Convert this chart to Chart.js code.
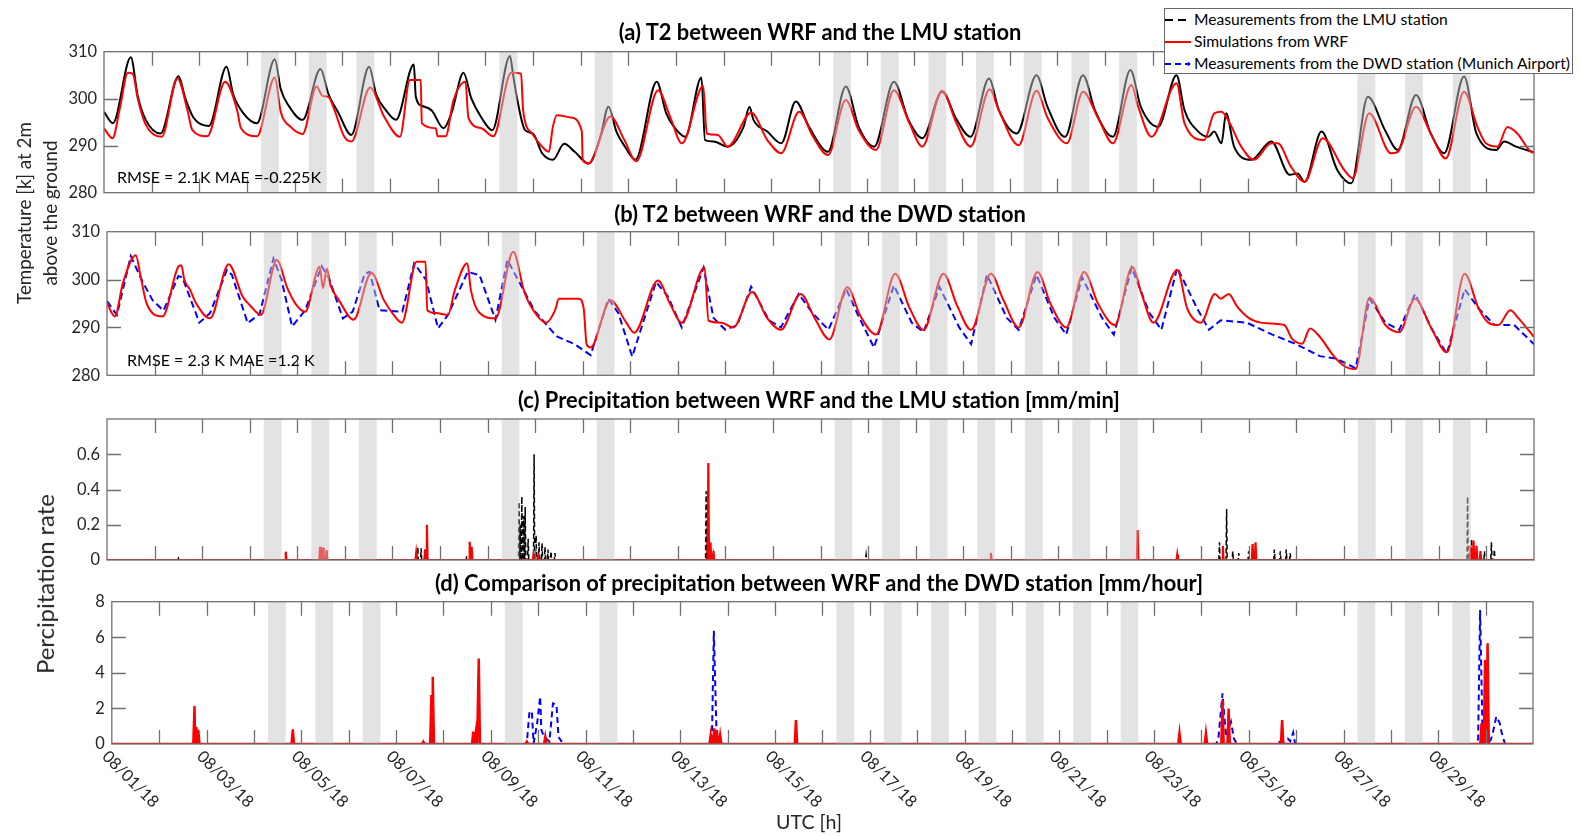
<!DOCTYPE html>
<html>
<head>
<meta charset="utf-8">
<script src="https://cdn.jsdelivr.net/npm/chart.js@4/dist/chart.umd.min.js"></script>
<style>
html,body{margin:0;padding:0;background:#fff;}
#stage{position:relative;width:1580px;height:836px;overflow:hidden;background:#fff;font-family:Lato,"Open Sans",sans-serif;}
#stage canvas{position:absolute;left:0;top:0;}
.txt{position:absolute;white-space:nowrap;line-height:1;transform:translate(-50%,-50%);}
.ttl{font-weight:bold;color:#000;}
.ylab{color:#262626;transform:translate(-50%,-50%) rotate(-90deg);}
.note{color:#000;transform:translate(0,-50%);}
#legend{position:absolute;left:1164px;top:8px;width:409px;height:66px;border:1px solid #6a6a6a;background:#fff;box-sizing:border-box;}
.lrow{position:absolute;left:0;height:20px;width:400px;}
.lrow svg{position:absolute;left:0;top:0;}
.lrow span{position:absolute;left:29px;top:50%;transform:translateY(-50%);white-space:nowrap;color:#000;line-height:1;}
</style>
</head>
<body>
<div id="stage">
  <canvas id="cA" width="1580" height="836"></canvas>
  <canvas id="cB" width="1580" height="836"></canvas>
  <canvas id="cC" width="1580" height="836"></canvas>
  <canvas id="cD" width="1580" height="836"></canvas>

  <div class="txt ttl" id="tA" style="left:820px;top:32px;">(a) T2 between WRF and the LMU station</div>
  <div class="txt ttl" id="tB" style="left:820px;top:213.5px;">(b) T2 between WRF and the DWD station</div>
  <div class="txt ttl" id="tC" style="left:819px;top:400px;">(c) Precipitation between WRF and the LMU station [mm/min]</div>
  <div class="txt ttl" id="tD" style="left:819px;top:582.5px;">(d) Comparison of precipitation between WRF and the DWD station [mm/hour]</div>

  <div class="txt note" id="nA" style="left:117px;top:176.5px;">RMSE = 2.1K MAE =-0.225K</div>
  <div class="txt note" id="nB" style="left:127px;top:360px;">RMSE = 2.3 K MAE =1.2 K</div>

  <div class="txt ylab" id="y1" style="left:24px;top:213px;">Temperature [k] at 2m</div>
  <div class="txt ylab" id="y2" style="left:50px;top:213px;">above the ground</div>
  <div class="txt ylab" id="y3" style="left:45px;top:584px;">Percipitation rate</div>
  <div class="txt" id="xl" style="left:809px;top:822px;color:#262626;">UTC [h]</div>

  <div id="legend">
    <div class="lrow" style="top:1px;">
      <svg width="28" height="20"><line x1="0" y1="10" x2="26" y2="10" stroke="#000" stroke-width="2" stroke-dasharray="8,5"/></svg>
      <span id="l1">Measurements from the LMU station</span>
    </div>
    <div class="lrow" style="top:23px;">
      <svg width="28" height="20"><line x1="0" y1="10" x2="26" y2="10" stroke="#ff0000" stroke-width="2"/></svg>
      <span id="l2">Simulations from WRF</span>
    </div>
    <div class="lrow" style="top:44.5px;">
      <svg width="28" height="20"><line x1="0" y1="10" x2="22" y2="10" stroke="#0000ff" stroke-width="2" stroke-dasharray="6,4"/><circle cx="23.5" cy="10" r="1.8" fill="#0000ff"/></svg>
      <span id="l3">Measurements from the DWD station (Munich Airport)</span>
    </div>
  </div>
</div>

<script>
// ---------------- DATA (hours since 08/01/18 00:00 UTC) ----------------
const lmuHour = [
 0, 4.5, 13.5, 17, 21,
 28.5, 37.5, 41, 45,
 52.8, 61.7, 65, 70,
 77, 86, 89, 93,
 100, 109, 113, 118,
 124.5, 133.5, 137, 142,
 147, 156, 157, 160, 165,
 171, 175, 181, 185, 190,
 195.5, 204.4, 206, 208, 212,
 216, 220.6, 226, 231.7, 237,
 244, 250, 254, 258, 262,
 267.6, 278.3, 283, 287,
 292.7, 300.8, 302.6, 307, 314,
 322, 325, 327, 334,
 341, 348.3, 355,
 364.5, 373.5, 380,
 387.8, 397.7, 405,
 412, 422, 429,
 436.3, 445.6, 450.5,
 459.6, 469.5, 475,
 483.9, 492.9, 499,
 508, 516.8, 522,
 530.8, 540, 544, 551,
 556, 559, 562.6, 565, 569, 577.7,
 587.7, 597, 601,
 604.5, 613, 621,
 628, 636.3, 645,
 651.4, 660.6, 668,
 674.8, 684.8, 691,
 701, 705, 711, 720
];
const lmuTemp = [
 297.2, 294.8, 308.8, 300.5, 295.5,
 292.6, 304.8, 300, 296,
 294.2, 306.8, 301, 297,
 294.8, 308.4, 302, 298.5,
 295.5, 306.3, 301, 297,
 292.3, 306.8, 301, 297.5,
 295.5, 307.3, 300.4, 298.5, 297.5,
 293.7, 297, 305.5, 300, 296,
 293.3, 309.1, 305, 300, 293.3,
 292.6, 288.4, 287, 290.4, 288.7,
 286.2, 292, 298.3, 293, 290,
 287, 303.6, 297, 294,
 291.9, 304.5, 291.2, 290.9, 289.8,
 294, 298.3, 295.5, 293,
 290.5, 299.4, 294,
 288.7, 302.6, 294,
 289.8, 303.6, 295.5,
 291.6, 301.5, 295.8,
 291.9, 304.3, 297.6,
 292.6, 305, 298.3,
 291.9, 305, 297.5,
 291.9, 306.1, 298.3,
 294, 305, 297.6, 293,
 291.9, 293, 290.5, 296.9, 289.8, 287,
 290.9, 283.8, 284.1,
 282.3, 293, 284.8,
 282, 300.4, 293.3,
 289.1, 300.8, 292.6,
 288.4, 304.7, 292.6,
 289.1, 290.9, 289.8, 288.6
];
const wrfAHour = [
 0, 4.3, 8, 12, 14.5, 17, 21,
 29, 37, 42, 44.5,
 52, 61, 67, 69,
 77, 86, 89, 94,
 100, 107, 110, 113, 116, 121,
 124.6, 134, 141,
 149, 154, 159.5, 160, 167, 168,
 172, 176, 182, 183.5, 190,
 196, 205, 210, 211, 215.5,
 220.6, 224, 226, 228, 235,
 240.6, 241, 244, 255, 262,
 268, 279, 285,
 291, 301.7, 303.5, 309,
 314, 325.9, 334,
 341, 350, 357,
 364.5, 373.5, 380,
 388.7, 397.7, 405.5,
 412, 422, 429,
 436.3, 446, 450.5,
 460.5, 469.5, 475,
 484.8, 492.9, 500.6,
 508, 517.3, 520.7,
 527.4, 540, 544,
 554, 559, 562.6, 566.8, 572.6,
 579, 587.7, 591, 597.7,
 604.5, 613.6, 624.5,
 628.7, 637, 648,
 651.4, 660.6, 668,
 675.6, 684.8, 691.5, 695.8,
 701.6, 706.6, 711.6, 718.4, 720
];
const wrfATemp = [
 293.7, 291.6, 298, 305.5, 305.3, 300, 294.5,
 291.9, 304.3, 297.6, 293.3,
 292, 303.6, 297.6, 293.7,
 292, 304.5, 297.2, 294,
 292.5, 302.6, 300.6, 300.4, 297.6, 291.9,
 290.9, 302.4, 296.2,
 291.9, 304, 304, 294.8, 293.7, 292,
 292, 299.7, 303.6, 295.9, 293.7,
 292, 305.5, 305.3, 297.6, 292.6,
 289.8, 288.7, 294, 296.5, 296,
 293, 287, 286.2, 296.2, 291.2,
 286.7, 301.8, 296.2,
 290.5, 302.7, 292.6, 292.3,
 289.8, 297, 291.2,
 288.4, 297.2, 291.9,
 288, 299.7, 293.3,
 289.1, 301.8, 294.8,
 289.8, 301.7, 295,
 289.8, 302, 297.6,
 290.1, 301.7, 296,
 290.5, 301.5, 295.8,
 290.5, 302.9, 298.3,
 291.9, 303.3, 294.8,
 291.2, 296.9, 297.2, 294.8, 289.8,
 287, 290.5, 290.5, 285.5,
 282.3, 291.6, 284.8,
 283.1, 296.9, 288.4,
 288.7, 298.3, 292.6,
 287.3, 301.5, 294, 290.5,
 289.8, 294, 292.6, 288.7, 288.5
];
const wrfBHour = [
 0, 4, 8, 14.5, 17, 20,
 28, 36, 37.5, 39, 42, 45,
 52, 61.4, 68.5, 72,
 77.6, 85.7, 91, 95.5,
 100, 107.3, 109, 110.9, 112.7, 117,
 124.4, 133.4, 139.7, 144,
 148.8, 156.2, 160.7, 161.6, 166,
 172, 175.5, 181.8, 183.6, 188,
 196, 205, 210.3, 214,
 221.6, 226, 228, 238,
 240.5, 242, 244, 254, 262,
 266, 278, 284,
 290, 301.5, 303.5, 310,
 316, 325.5, 333,
 340, 350, 357,
 364.5, 373.5, 380,
 388, 397.7, 405,
 412, 422, 429,
 436, 446, 452,
 460, 469.5, 476,
 484, 493, 500,
 508.5, 517.3, 522,
 528, 540, 545,
 552, 559, 562, 566, 570, 576,
 582, 588, 594, 598,
 603, 607, 612, 619,
 624, 630, 637, 645,
 652, 660, 668,
 676, 685, 692, 697,
 702, 708, 712, 720
];
const wrfBTemp = [
 295, 292.3, 299.2, 305.1, 300.6, 295,
 292.3, 302.7, 303, 300, 297.8, 295,
 291.9, 303.2, 296.4, 294.7,
 292.6, 304.1, 298.2, 294.7,
 293.3, 302.7, 298.2, 302.3, 298.9, 295.7,
 291.6, 301.4, 295.7, 293,
 291, 303.7, 303.7, 293.6, 293,
 292.6, 297.8, 303.4, 297.8, 293,
 291.9, 305.8, 297.8, 294.3,
 291, 293.5, 296, 296,
 294, 286.5, 285.8, 295.7, 291,
 288.9, 299.8, 295,
 291, 302.5, 291.4, 291,
 290, 297.4, 292,
 289.5, 297, 292,
 287.5, 298.4, 292.5,
 288.5, 301.2, 294,
 289.5, 301.2, 294.5,
 289.5, 301.2, 296,
 290, 301.6, 295,
 290, 301.6, 295,
 290.5, 302.6, 297,
 291, 302, 294,
 291, 297, 296, 297, 294.5, 292,
 291, 290.8, 290.5, 287.6,
 286.6, 289.8, 288, 284,
 282, 281.3, 296.2, 290.5,
 289, 296, 290,
 284.8, 301.2, 294, 291,
 290.5, 293.6, 292, 288
];
const dwdHour = [
 0, 5, 12, 18, 23,
 28.5, 36, 38, 46.6,
 52, 60.5, 63, 71,
 77, 84, 88, 93.4,
 100, 108.3, 112, 119,
 124, 130, 132.5, 137.5,
 149, 155, 161, 167,
 172, 182, 188, 196,
 202, 216, 227, 236,
 244, 253, 258, 265,
 277, 283, 290,
 301, 306, 312, 318,
 325, 334, 340,
 349, 356, 364,
 373, 379, 387,
 397, 406, 412,
 420, 430, 436,
 444, 454, 460,
 469, 478, 484,
 492, 502, 508,
 517, 526, 532,
 540, 550, 556,
 562, 575, 588, 600,
 612, 620, 630,
 637, 645, 652,
 660, 668, 676,
 685, 692, 700, 710, 720
];
const dwdTemp = [
 295.5, 292.6, 304.9, 299.5, 295.7,
 293.5, 300.7, 300.5, 291,
 293, 302, 301, 290.9,
 292.8, 304.4, 300, 290.2,
 293.6, 302.8, 300.3, 291.9,
 293.3, 301.2, 301.6, 293.6,
 293.3, 303.4, 299.9, 289.8,
 292.6, 301.6, 300.9, 291.6,
 304.1, 293.3, 288.1, 286.5,
 284.2, 296, 293, 283.9,
 299.5, 296.5, 290,
 302.5, 292, 289.5, 290.5,
 298.5, 291.5, 290,
 297, 293, 289.5,
 298, 292.5, 285.8,
 298.8, 291, 289,
 298.5, 290, 286.5,
 301, 292, 289.5,
 301, 292, 288.5,
 300.5, 292, 288.5,
 302.5, 293, 289.5,
 302.5, 294, 289.5,
 291.5, 291, 288.5, 286.5,
 284, 283.5, 281.5,
 296, 291, 289.5,
 297, 290, 284.5,
 298, 294, 290.5, 290.5, 286.5
];
// (c) LMU precipitation [mm/min] - measurement peaks and WRF peaks
const lmuPrecHour = [36, 156.8, 158.5, 181.5, 207.9, 208.4, 209.3, 210.2, 211, 212.5, 215.5, 216.5, 218, 219.5, 221, 222.5, 224, 226, 302.3, 303, 306, 383, 561.3, 564.9, 568, 571, 576, 579, 589, 592, 595, 597, 686.5, 688.5, 695, 698.5, 700];
const lmuPrecVal  = [0.01, 0.075, 0.066, 0.023, 0.33, 0.2, 0.36, 0.25, 0.3, 0.12, 0.6, 0.14, 0.1, 0.095, 0.075, 0.06, 0.05, 0.04, 0.39, 0.2, 0.03, 0.03, 0.1, 0.29, 0.05, 0.04, 0.05, 0.04, 0.06, 0.05, 0.06, 0.04, 0.36, 0.12, 0.05, 0.1, 0.06];
const wrfPrecCHour = [90.2, 107.5, 109, 110.8, 156, 160.5, 161.4, 183, 184, 215.2, 217.5, 303.4, 304.5, 306, 446, 520, 540, 563, 578, 579.5, 688, 689.5, 691, 693];
const wrfPrecCVal  = [0.047, 0.075, 0.07, 0.057, 0.038, 0.06, 0.2, 0.104, 0.075, 0.028, 0.02, 0.55, 0.1, 0.05, 0.04, 0.17, 0.03, 0.08, 0.09, 0.1, 0.08, 0.11, 0.08, 0.05];
// (d) DWD precipitation [mm/hour]
const wrfPrecDHour = [41.9, 42.8, 43.8, 91.7, 157.8, 161.9, 162.6, 183.1, 184.5, 185.9, 210.3, 219.6, 303.4, 305.2, 306.5, 308.2, 346.6, 540.9, 554.3, 562.7, 565.8, 592.9, 693.9, 695.7, 697];
const wrfPrecDVal  = [2.13, 0.97, 0.79, 0.82, 0.13, 2.75, 3.78, 0.69, 0.69, 4.81, 0.13, 0.41, 0.5, 0.88, 0.79, 0.5, 1.35, 0.6, 0.6, 2.47, 2.0, 1.35, 1.16, 4.72, 5.66];
const dwdPrecHour = [0, 209.6, 210.3, 211.6, 212.8, 213.7, 215.5, 217, 217.6, 219, 221.7, 223.5, 225.3, 226.3, 228.7, 304, 305, 306.5, 559.5, 560.6, 562.7, 564.5, 567, 568.5, 570, 589.5, 590.5, 593, 595.8, 597, 598.5, 599.5, 691.5, 692.2, 693.2, 694.4, 695.3, 698.5, 699.6, 701.4, 703.2, 704, 705.8, 720];
const dwdPrecVal  = [0, 0, 0.13, 1.82, 1.82, 0.04, 1.16, 2.66, 0.79, 0.41, 0.13, 2.28, 2.2, 0.4, 0, 0, 6.37, 0, 0, 0.3, 2.85, 0.4, 1.25, 0.3, 0, 0, 0.13, 0.1, 0.3, 0.15, 0.64, 0, 0, 0.3, 7.53, 0.79, 0, 0.2, 0.6, 1.54, 1.16, 0.69, 0, 0];

// shaded daytime windows (day index from 08/01) and hours
const bandDays = [3, 4, 5, 8, 10, 15, 16, 17, 18, 19, 20, 21, 26, 27, 28];
const bandFromHour = 7.1, bandToHour = 16.1;

// tick labels
const tempTicks = [280, 290, 300, 310];
const tempTickLabels = ['280', '290', '300', '310'];
const lmuPrecTicks = [0, 0.2, 0.4, 0.6];
const lmuPrecTickLabels = ['0', '0.2', '0.4', '0.6'];
const dwdPrecTicks = [0, 2, 4, 6, 8];
const dwdPrecTickLabels = ['0', '2', '4', '6', '8'];
const dateTickHours = [0, 48, 96, 144, 192, 240, 288, 336, 384, 432, 480, 528, 576, 624, 672];
const dateTickLabels = ['08/01/18','08/03/18','08/05/18','08/07/18','08/09/18','08/11/18','08/13/18','08/15/18','08/17/18','08/19/18','08/21/18','08/23/18','08/25/18','08/27/18','08/29/18'];
const dayTickHours = [24,48,72,96,120,144,168,192,216,240,264,288,312,336,360,384,408,432,456,480,504,528,552,576,600,624,648,672,696];

// ---------------- helpers ----------------
function zip(xs, ys) { const n = Math.min(xs.length, ys.length); const o = []; for (let i = 0; i < n; i++) o.push({x: xs[i], y: ys[i]}); return o; }
function spikes(xs, ys, hw) {
  const pts = [{x: 0, y: 0}];
  const n = Math.min(xs.length, ys.length);
  for (let i = 0; i < n; i++) pts.push({x: xs[i] - hw, y: 0}, {x: xs[i], y: ys[i]}, {x: xs[i] + hw, y: 0});
  pts.push({x: 720, y: 0});
  pts.sort((a, b) => a.x - b.x);
  return pts;
}
const mctx = document.createElement('canvas').getContext('2d');
function textW(t, weight) { mctx.font = weight + ' 100px Lato, "Open Sans", sans-serif'; return mctx.measureText(t).width; }
function sizeFor(t, target, weight) { return 100 * target / textW(t, weight || 'normal'); }
function fit(ids, refId, target, weight) {
  const ref = document.getElementById(refId);
  const s = sizeFor(ref.textContent, target, weight);
  ids.forEach(id => document.getElementById(id).style.fontSize = s.toFixed(2) + 'px');
}
fit(['tA','tB','tC','tD'], 'tA', 404, 'bold');
fit(['nA','nB'], 'nA', 204);
fit(['l1','l2','l3'], 'l1', 254);
fit(['y3'], 'y3', 180);
fit(['y1','y2'], 'y1', 182);
fit(['xl'], 'xl', 66);
const tickPx = sizeFor('310', 28.6);
const tickFont = tickPx.toFixed(2) + 'px Lato, "Open Sans", sans-serif';

// ---------------- frame/band plugin ----------------
const framePlugin = {
  id: 'frame',
  afterDatasetsDraw(chart) {
    const {ctx, chartArea: a, scales: {x}} = chart;
    ctx.save();
    ctx.beginPath(); ctx.rect(a.left, a.top, a.right - a.left, a.bottom - a.top); ctx.clip();
    ctx.fillStyle = 'rgba(198,198,198,0.49)';
    bandDays.forEach(d => {
      const x1 = x.getPixelForValue(d * 24 + bandFromHour);
      const x2 = x.getPixelForValue(d * 24 + bandToHour);
      ctx.fillRect(x1, a.top, x2 - x1, a.bottom - a.top);
    });
    ctx.restore();
  },
  afterDraw(chart, args, opts) {
    const {ctx, chartArea: a, scales: {x, y}} = chart;
    ctx.save();
    ctx.strokeStyle = '#707070'; ctx.lineWidth = 1.3;
    ctx.strokeRect(a.left, a.top, a.right - a.left, a.bottom - a.top);
    ctx.beginPath();
    const tl = 14;
    dayTickHours.forEach(h => {
      const px = Math.round(x.getPixelForValue(h)) + 0.5;
      ctx.moveTo(px, a.top); ctx.lineTo(px, a.top + tl);
      ctx.moveTo(px, a.bottom); ctx.lineTo(px, a.bottom - tl);
    });
    opts.yTicks.forEach(v => {
      const py = Math.round(y.getPixelForValue(v)) + 0.5;
      if (py <= a.top + 2 || py >= a.bottom - 2) return;
      ctx.moveTo(a.left, py); ctx.lineTo(a.left + tl, py);
      ctx.moveTo(a.right, py); ctx.lineTo(a.right - tl, py);
    });
    ctx.stroke();
    ctx.fillStyle = '#262626'; ctx.font = tickFont;
    ctx.textAlign = 'right'; ctx.textBaseline = 'middle';
    opts.yTicks.forEach((v, i) => ctx.fillText(opts.yLabels[i], a.left - 7, y.getPixelForValue(v)));
    if (opts.dates) {
      ctx.textAlign = 'left'; ctx.textBaseline = 'top';
      dateTickHours.forEach((h, i) => {
        const px = x.getPixelForValue(h);
        ctx.save();
        ctx.translate(px - 1, a.bottom + 4);
        ctx.rotate(Math.PI / 4);
        ctx.fillText(dateTickLabels[i], 0, 0);
        ctx.restore();
      });
    }
    ctx.restore();
  }
};

// ---------------- chart builder ----------------
const W = 1580, H = 836;
function makeChart(id, g, datasets, yMin, yMax, yTicks, yLabels, dates) {
  return new Chart(document.getElementById(id), {
    type: 'line',
    data: {datasets},
    options: {
      responsive: false, animation: false, devicePixelRatio: 1,
      parsing: false, normalized: true,
      layout: {padding: {left: g.l, right: W - g.r, top: g.t, bottom: H - g.b}},
      elements: {point: {radius: 0}, line: {tension: 0}},
      scales: {
        x: {type: 'linear', min: 0, max: 720, display: false},
        y: {type: 'linear', min: yMin, max: yMax, display: false}
      },
      plugins: {legend: {display: false}, title: {display: false}, tooltip: {enabled: false},
        frame: {yTicks, yLabels, dates}}
    },
    plugins: [framePlugin]
  });
}

const geomA = {l: 104, r: 1534, t: 51.7, b: 192.7};
const geomB = {l: 107, r: 1534, t: 231.7, b: 375.3};
const geomC = {l: 107, r: 1534, t: 419, b: 560};
const geomD = {l: 111.8, r: 1533, t: 601.7, b: 744};

makeChart('cA', geomA, [
  {data: zip(wrfAHour, wrfATemp), borderColor: '#ff0000', borderWidth: 2, cubicInterpolationMode: 'monotone', order: 0},
  {data: zip(lmuHour, lmuTemp), borderColor: '#000000', borderWidth: 2, cubicInterpolationMode: 'monotone', order: 1}
], 280, 310, tempTicks, tempTickLabels, false);

makeChart('cB', geomB, [
  {data: zip(wrfBHour, wrfBTemp), borderColor: '#ff0000', borderWidth: 2, cubicInterpolationMode: 'monotone', order: 0},
  {data: zip(dwdHour, dwdTemp), borderColor: '#0000ff', borderWidth: 2, borderDash: [7, 4], order: 1}
], 280, 310, tempTicks, tempTickLabels, false);

makeChart('cC', geomC, [
  {data: spikes(wrfPrecCHour, wrfPrecCVal, 0.35), borderColor: '#ff0000', borderWidth: 2.2, order: 0},
  {data: spikes(lmuPrecHour, lmuPrecVal, 0.3), borderColor: '#000000', borderWidth: 1.5, borderDash: [5, 3], order: 1}
], 0, 0.8, lmuPrecTicks, lmuPrecTickLabels, false);

makeChart('cD', geomD, [
  {data: spikes(wrfPrecDHour, wrfPrecDVal, 0.6), borderColor: '#ff0000', borderWidth: 2.5, order: 0},
  {data: zip(dwdPrecHour, dwdPrecVal), borderColor: '#0000ff', borderWidth: 2, borderDash: [6, 4], order: 1}
], 0, 8, dwdPrecTicks, dwdPrecTickLabels, true);
</script>
</body>
</html>
